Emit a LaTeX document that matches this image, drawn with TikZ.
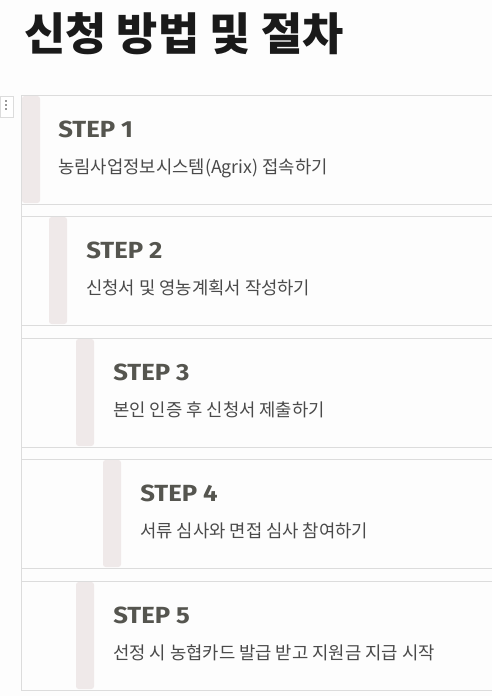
\documentclass[tikz,border=0pt]{standalone}
\usepackage{fontspec}
\newfontfamily\kr{Noto Sans CJK KR}
\newfontfamily\stepfont[FakeStretch=1.1]{Fira Sans}
\definecolor{bgc}{HTML}{FDFDFD}
\definecolor{linec}{HTML}{DCDCDC}
\definecolor{barc}{HTML}{EFE9E9}
\definecolor{stepc}{HTML}{55554F}
\definecolor{descc}{HTML}{4A4A4A}
\definecolor{titlec}{HTML}{1A1A1A}
\tikzset{
  cardline/.style={draw=linec, line width=0.75pt},
  accentbar/.style={fill=barc, rounded corners=2pt},
  steplabel/.style={anchor=base west, inner sep=0pt, text=stepc, font=\stepfont\bfseries\fontsize{17.5}{20}\selectfont},
  desclabel/.style={anchor=base west, inner sep=0pt, text=descc, font=\kr\fontsize{13.3}{16}\selectfont},
  titlelabel/.style={anchor=base west, inner sep=0pt, text=titlec, font=\kr\bfseries\fontsize{33.6}{38}\selectfont},
}
\begin{document}
\begin{tikzpicture}[x=0.75pt,y=-0.75pt]
\fill[bgc] (0,0) rectangle (492,696);
\useasboundingbox (0,0) rectangle (492,696);
% title
\node[titlelabel] (title) at (24,50) {신청 방법 및 절차};
% handle
\draw[fill=white, draw=linec, line width=0.6pt] (0,96.5) rectangle (13,117);
\fill[gray!80] (5,100) rectangle (7,102);
\fill[gray!80] (5,104) rectangle (7,106);
\fill[gray!80] (5,108) rectangle (7,110);
% outer left border
\draw[cardline] (21,95) -- (21,690);
% cards: top, bar x, text x, label, desc
\foreach \t/\bx/\tx/\n/\d in {
  95/22/58/1/{농림사업정보시스템(Agrix) 접속하기},
  216/49/86/2/{신청서 및 영농계획서 작성하기},
  338/76/113/3/{본인 인증 후 신청서 제출하기},
  459/103/140/4/{서류 심사와 면접 심사 참여하기},
  581/76/113/5/{선정 시 농협카드 발급 받고 지원금 지급 시작}}{
  \draw[cardline] (21,\t) -- (492,\t);
  \draw[cardline] (21,\t+109) -- (492,\t+109);
  \fill[accentbar] (\bx,\t+1) rectangle (\bx+18,\t+108);
  \node[steplabel] (step\n) at (\tx,\t+42) {STEP \n};
  \node[desclabel] (desc\n) at (\tx,\t+78) {\d};
}
\end{tikzpicture}
\end{document}
